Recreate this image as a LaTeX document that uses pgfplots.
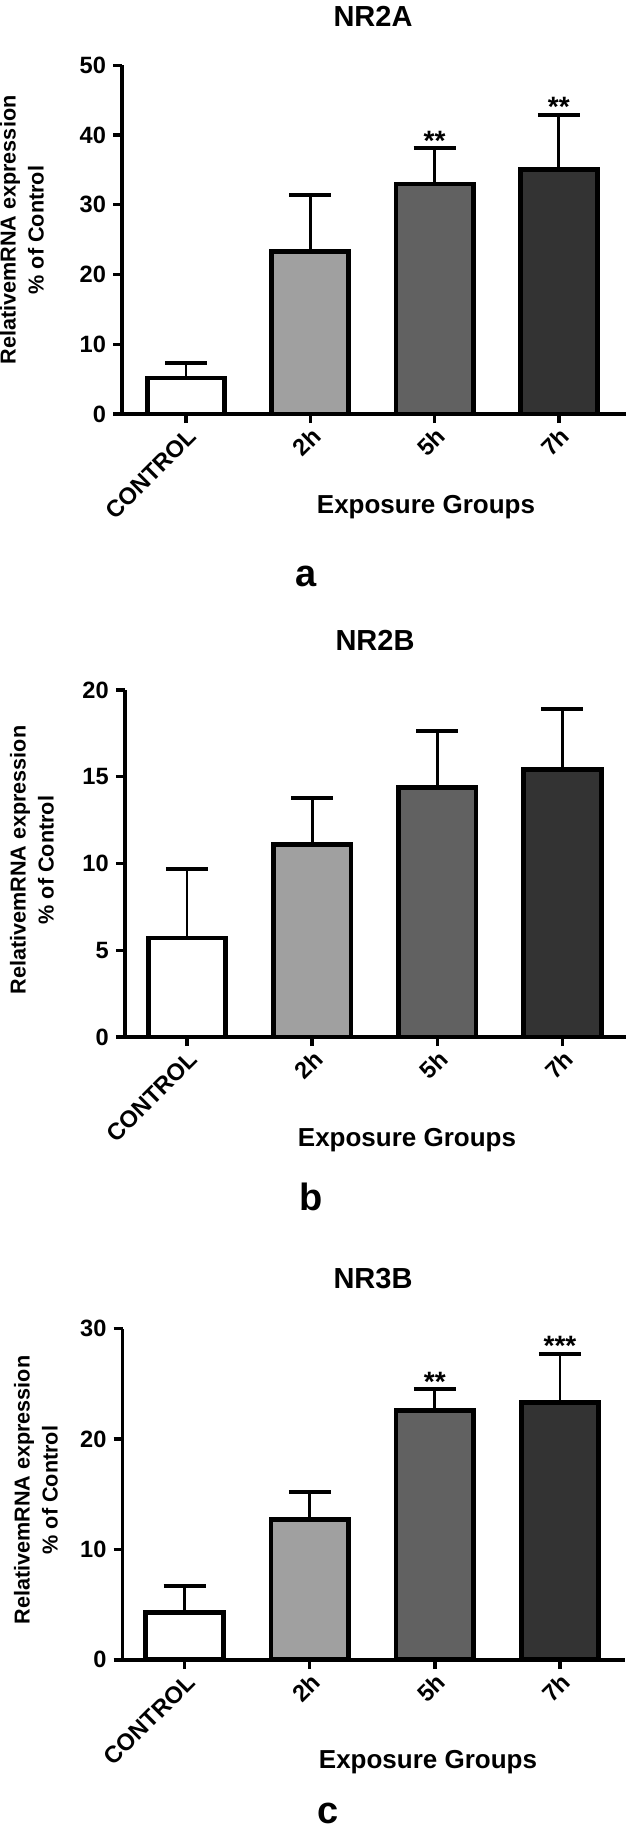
\documentclass[border=0pt]{standalone}
\usepackage{fontspec}
\setmainfont{Liberation Sans}
\usepackage{pgfplots}
\pgfplotsset{compat=1.18}

\definecolor{g2}{HTML}{A0A0A0}
\definecolor{g5}{HTML}{616161}
\definecolor{g7}{HTML}{333333}

\pgfplotsset{
  gp/.style={
    scale only axis, anchor=south west,
    axis x line=bottom, axis y line=left,
    axis line style={-, line width=1.7pt},
    every outer x axis line/.append style={-},
    every outer y axis line/.append style={-},
    tick style={black, line width=1.7pt},
    tick align=outside, major tick length=4.5pt,
    xtick={0,1,2,3},
    xticklabels={CONTROL,2h,5h,7h},
    x tick label style={rotate=45, anchor=north east, inner sep=1pt,
      font=\fontsize{11.8}{12}\selectfont\bfseries},
    y tick label style={font=\fontsize{11.8}{12}\selectfont\bfseries},
    /pgf/number format/assume math mode=true,
    ymin=0, enlargelimits=false, clip=false, ybar,
  },
  bars/.style={draw=black, line width=2.4pt, fill=#1,
    /pgf/bar shift=0pt, bar width=0.62,
    error bars/.cd, y dir=plus, y explicit, error mark=|,
    error bar style={line width=1.4pt, black},
    error mark options={line width=1.8pt, mark size=10.5pt, black}},
}
\tikzset{
  sig/.style={anchor=base, inner sep=0pt, yshift=-1pt,
    font=\fontsize{14}{14}\selectfont\bfseries},
  ttl/.style={anchor=base, font=\fontsize{14.5}{15}\selectfont\bfseries},
  xl/.style={anchor=base, font=\fontsize{13}{14}\selectfont\bfseries},
  yl/.style={rotate=90, align=center, font=\fontsize{10.8}{14}\selectfont\bfseries},
  pl/.style={anchor=base, font=\fontsize{19}{20}\selectfont\bfseries},
}

\begin{document}
\begin{tikzpicture}
% a: NR2A
\begin{axis}[gp, at={(61pt,-207pt)}, width=252pt, height=174.4pt,
  ymax=50, ytick={0,10,...,50}, xmin=-0.515, xmax=3.54]
\addplot[bars=white] coordinates {(0,5.16) +- (0,2.12)};
\addplot[bars=g2] coordinates {(1,23.34) +- (0,8.02)};
\addplot[bars=g5] coordinates {(2,32.97) +- (0,5.16)};
\addplot[bars=g7] coordinates {(3,35.09) +- (0,7.80)};
\node[sig] at (axis cs:2,38.13) {**};
\node[sig] at (axis cs:3,42.89) {**};
\end{axis}

% b: NR2B
\begin{axis}[gp, at={(62.4pt,-518.5pt)}, width=250.6pt, height=173.5pt,
  ymax=20, ytick={0,5,...,20}, xmin=-0.497, xmax=3.508]
\addplot[bars=white] coordinates {(0,5.71) +- (0,3.99)};
\addplot[bars=g2] coordinates {(1,11.08) +- (0,2.70)};
\addplot[bars=g5] coordinates {(2,14.40) +- (0,3.25)};
\addplot[bars=g7] coordinates {(3,15.44) +- (0,3.48)};
\end{axis}

% c: NR3B
\begin{axis}[gp, at={(61.25pt,-829.9pt)}, width=251pt, height=165.65pt,
  ymax=30, ytick={0,10,...,30}, xmin=-0.497, xmax=3.516]
\addplot[bars=white] coordinates {(0,4.3) +- (0,2.4)};
\addplot[bars=g2] coordinates {(1,12.7) +- (0,2.5)};
\addplot[bars=g5] coordinates {(2,22.6) +- (0,1.9)};
\addplot[bars=g7] coordinates {(3,23.3) +- (0,4.4)};
\node[sig] at (axis cs:2,24.5) {**};
\node[sig] at (axis cs:3,27.7) {***};
\end{axis}

% labels, positions in pixels of the reference
\begin{scope}[x=0.5pt, y=-0.5pt]
\node[ttl] at (373,26) {NR2A};
\node[xl] at (426,513) {Exposure Groups};
\node[yl] at (22,230) {RelativemRNA expression\\\% of Control};
\node[pl] at (306,586) {a};

\node[ttl] at (375,650) {NR2B};
\node[xl] at (407,1146) {Exposure Groups};
\node[yl] at (32,860) {RelativemRNA expression\\\% of Control};
\node[pl] at (311,1210) {b};

\node[ttl] at (373,1288) {NR3B};
\node[xl] at (428,1768) {Exposure Groups};
\node[yl] at (36,1490) {RelativemRNA expression\\\% of Control};
\node[pl] at (328,1823) {c};
\end{scope}
\pgfresetboundingbox
\path[use as bounding box] (0,0) rectangle (313pt,-915.5pt);
\end{tikzpicture}
\end{document}
